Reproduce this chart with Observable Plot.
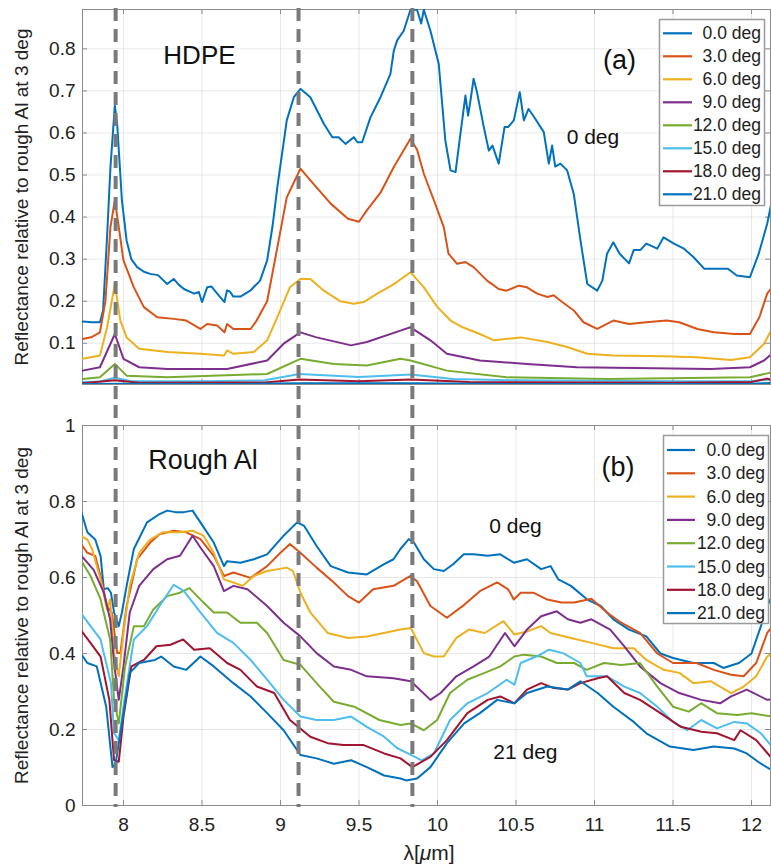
<!DOCTYPE html>
<html><head><meta charset="utf-8">
<script src="https://cdn.jsdelivr.net/npm/d3@7"></script>
<script src="https://cdn.jsdelivr.net/npm/@observablehq/plot@0.6"></script>
<style>
body{margin:0;background:#fff}
#chart{position:relative;width:771px;height:867px;font-family:"Liberation Sans",Arial,Helvetica,sans-serif}
#chart svg{display:block}
#overlay{position:absolute;left:0;top:0;pointer-events:none}
</style>
</head><body><div id="chart"></div>
<script>
// ---------- data ----------
const seriesNames = ["0.0 deg","3.0 deg","6.0 deg","9.0 deg","12.0 deg","15.0 deg","18.0 deg","21.0 deg"];
const seriesColors = ["#0072BD","#D95319","#EDB120","#7E2F8E","#77AC30","#4DBEEE","#A2142F","#0072BD"];
const xTicks = [8,8.5,9,9.5,10,10.5,11,11.5,12];
const yTicksTop = [0.1,0.2,0.3,0.4,0.5,0.6,0.7,0.8];
const yTicksBottom = [0,0.2,0.4,0.6,0.8,1];
const dashX = [7.95,9.115,9.84];

// HDPE panel (a): [wavelength µm, reflectance]
const hdpe0 = [[7.74,0.152],[7.80,0.150],[7.85,0.150],[7.87,0.178],[7.895,0.35],[7.917,0.518],[7.945,0.665],[7.96,0.62],[7.99,0.44],[8.02,0.344],[8.05,0.30],[8.087,0.281],[8.13,0.27],[8.17,0.265],[8.22,0.262],[8.278,0.241],[8.32,0.253],[8.35,0.24],[8.385,0.229],[8.45,0.218],[8.48,0.222],[8.50,0.198],[8.533,0.233],[8.56,0.235],[8.597,0.218],[8.643,0.198],[8.66,0.226],[8.68,0.222],[8.70,0.211],[8.745,0.211],[8.81,0.226],[8.87,0.249],[8.915,0.297],[8.95,0.38],[8.98,0.471],[9.04,0.63],[9.085,0.685],[9.127,0.705],[9.19,0.685],[9.276,0.622],[9.33,0.59],[9.37,0.59],[9.414,0.574],[9.467,0.59],[9.49,0.578],[9.52,0.578],[9.573,0.637],[9.637,0.685],[9.70,0.74],[9.722,0.796],[9.743,0.82],[9.785,0.843],[9.828,0.893],[9.87,0.893],[9.896,0.86],[9.913,0.893],[9.955,0.843],[10.008,0.764],[10.05,0.582],[10.083,0.511],[10.115,0.507],[10.146,0.598],[10.178,0.689],[10.195,0.641],[10.21,0.677],[10.23,0.729],[10.25,0.70],[10.295,0.614],[10.327,0.558],[10.35,0.57],[10.39,0.527],[10.427,0.614],[10.45,0.614],[10.486,0.63],[10.524,0.697],[10.55,0.63],[10.58,0.657],[10.61,0.641],[10.677,0.602],[10.709,0.527],[10.73,0.57],[10.75,0.52],[10.783,0.527],[10.826,0.511],[10.868,0.455],[10.911,0.344],[10.954,0.241],[11.017,0.225],[11.05,0.249],[11.08,0.313],[11.12,0.34],[11.16,0.313],[11.22,0.29],[11.25,0.322],[11.293,0.322],[11.33,0.337],[11.40,0.325],[11.44,0.352],[11.506,0.337],[11.57,0.325],[11.63,0.305],[11.70,0.277],[11.78,0.277],[11.85,0.277],[11.906,0.261],[11.99,0.257],[12.046,0.313],[12.10,0.384],[12.13,0.44]];
const hdpe3 = [[7.74,0.11],[7.80,0.115],[7.85,0.126],[7.885,0.2],[7.917,0.376],[7.945,0.44],[7.97,0.376],[8.0,0.297],[8.066,0.233],[8.13,0.186],[8.215,0.162],[8.32,0.158],[8.40,0.154],[8.49,0.134],[8.533,0.146],[8.597,0.142],[8.643,0.126],[8.66,0.146],[8.70,0.134],[8.81,0.134],[8.848,0.154],[8.915,0.2],[8.98,0.328],[9.04,0.447],[9.127,0.515],[9.21,0.479],[9.32,0.432],[9.43,0.396],[9.50,0.389],[9.55,0.416],[9.637,0.458],[9.722,0.519],[9.828,0.586],[9.87,0.56],[9.913,0.503],[9.977,0.44],[10.04,0.376],[10.07,0.313],[10.125,0.289],[10.178,0.293],[10.23,0.281],[10.316,0.249],[10.39,0.229],[10.44,0.225],[10.518,0.237],[10.57,0.233],[10.635,0.218],[10.70,0.21],[10.74,0.214],[10.794,0.198],[10.868,0.178],[10.93,0.15],[11.017,0.134],[11.12,0.154],[11.22,0.146],[11.33,0.15],[11.46,0.154],[11.54,0.15],[11.655,0.134],[11.76,0.126],[11.89,0.122],[11.99,0.122],[12.05,0.162],[12.10,0.218],[12.13,0.233]];
const hdpe6 = [[7.74,0.063],[7.85,0.071],[7.896,0.138],[7.945,0.241],[7.98,0.154],[8.02,0.114],[8.10,0.087],[8.28,0.079],[8.49,0.075],[8.64,0.071],[8.66,0.083],[8.70,0.075],[8.83,0.079],[8.915,0.107],[8.98,0.162],[9.06,0.233],[9.127,0.253],[9.19,0.253],[9.276,0.225],[9.38,0.2],[9.467,0.194],[9.53,0.198],[9.616,0.218],[9.72,0.24],[9.828,0.269],[9.913,0.233],[10.0,0.186],[10.083,0.154],[10.16,0.138],[10.27,0.122],[10.36,0.107],[10.53,0.114],[10.70,0.103],[10.826,0.091],[10.954,0.075],[11.12,0.071],[11.44,0.069],[11.65,0.067],[11.87,0.06],[11.99,0.067],[12.08,0.099],[12.13,0.134]];
const hdpe9 = [[7.74,0.035],[7.85,0.043],[7.945,0.122],[8.0,0.063],[8.10,0.043],[8.28,0.039],[8.66,0.039],[8.915,0.059],[9.02,0.099],[9.127,0.126],[9.23,0.114],[9.45,0.095],[9.55,0.103],[9.764,0.13],[9.828,0.138],[9.955,0.107],[10.06,0.075],[10.27,0.059],[10.57,0.051],[10.89,0.043],[11.74,0.039],[11.99,0.043],[12.08,0.059],[12.13,0.075]];
const hdpe12 = [[7.74,0.015],[7.85,0.019],[7.945,0.051],[8.02,0.023],[8.28,0.019],[8.915,0.027],[9.127,0.063],[9.34,0.051],[9.55,0.047],[9.764,0.063],[9.828,0.059],[10.06,0.035],[10.44,0.019],[11.08,0.015],[11.99,0.019],[12.13,0.031]];
const hdpe15 = [[7.74,0.008],[7.85,0.009],[7.945,0.018],[8.05,0.01],[8.5,0.01],[8.9,0.012],[9.12,0.027],[9.5,0.02],[9.83,0.026],[10.1,0.015],[10.5,0.012],[11.5,0.01],[12.0,0.01],[12.13,0.014]];
const hdpe18 = [[7.74,0.005],[7.945,0.012],[8.1,0.006],[8.9,0.007],[9.12,0.014],[9.5,0.01],[9.83,0.014],[10.2,0.008],[11.5,0.006],[12.0,0.008],[12.1,0.016],[12.13,0.012]];
const hdpe21 = [[7.74,0.003],[8.0,0.004],[8.7,0.003],[9.12,0.005],[9.83,0.005],[10.5,0.003],[11.5,0.003],[12.0,0.004],[12.13,0.006]];

// Rough Al panel (b)
const al0 = [[7.726,0.78],[7.77,0.719],[7.82,0.70],[7.854,0.657],[7.875,0.569],[7.9,0.572],[7.92,0.56],[7.94,0.508],[7.97,0.472],[7.99,0.508],[8.02,0.578],[8.066,0.675],[8.15,0.745],[8.23,0.767],[8.278,0.776],[8.33,0.772],[8.385,0.772],[8.44,0.776],[8.49,0.745],[8.575,0.692],[8.64,0.63],[8.66,0.643],[8.745,0.639],[8.83,0.648],[8.915,0.661],[9.02,0.71],[9.106,0.745],[9.15,0.736],[9.23,0.683],[9.32,0.63],[9.43,0.613],[9.55,0.608],[9.66,0.635],[9.72,0.648],[9.764,0.675],[9.817,0.701],[9.85,0.692],[9.913,0.648],[9.977,0.622],[10.04,0.617],[10.1,0.635],[10.167,0.661],[10.23,0.661],[10.32,0.657],[10.40,0.661],[10.486,0.639],[10.57,0.648],[10.66,0.622],[10.72,0.63],[10.77,0.595],[10.85,0.578],[10.954,0.542],[11.04,0.525],[11.12,0.49],[11.22,0.463],[11.33,0.445],[11.42,0.40],[11.5,0.388],[11.63,0.375],[11.76,0.375],[11.82,0.362],[11.92,0.375],[12.0,0.40],[12.06,0.472],[12.1,0.525],[12.13,0.55]];
const al3 = [[7.726,0.69],[7.77,0.665],[7.82,0.657],[7.854,0.604],[7.895,0.525],[7.925,0.508],[7.96,0.401],[7.98,0.401],[8.02,0.525],[8.087,0.648],[8.17,0.692],[8.23,0.714],[8.32,0.723],[8.40,0.719],[8.49,0.701],[8.575,0.657],[8.64,0.604],[8.70,0.613],[8.81,0.599],[8.915,0.63],[9.0,0.665],[9.06,0.688],[9.127,0.665],[9.23,0.626],[9.34,0.587],[9.43,0.551],[9.50,0.534],[9.59,0.569],[9.72,0.578],[9.828,0.604],[9.87,0.59],[9.955,0.525],[10.06,0.494],[10.17,0.528],[10.27,0.564],[10.38,0.587],[10.45,0.569],[10.486,0.542],[10.53,0.56],[10.61,0.56],[10.70,0.542],[10.79,0.534],[10.87,0.534],[10.98,0.544],[11.08,0.508],[11.17,0.481],[11.29,0.454],[11.4,0.40],[11.5,0.375],[11.65,0.375],[11.76,0.357],[11.87,0.344],[11.95,0.340],[12.03,0.375],[12.1,0.454],[12.13,0.47]];
const al6 = [[7.726,0.71],[7.77,0.70],[7.80,0.675],[7.854,0.595],[7.895,0.516],[7.915,0.543],[7.94,0.401],[7.97,0.34],[8.0,0.455],[8.04,0.578],[8.1,0.665],[8.17,0.70],[8.25,0.719],[8.36,0.719],[8.44,0.723],[8.51,0.71],[8.575,0.665],[8.64,0.595],[8.70,0.587],[8.76,0.578],[8.83,0.604],[8.915,0.617],[9.04,0.626],[9.08,0.617],[9.127,0.56],[9.19,0.508],[9.30,0.454],[9.43,0.441],[9.55,0.445],[9.764,0.463],[9.83,0.467],[9.913,0.401],[9.977,0.392],[10.04,0.392],[10.12,0.441],[10.2,0.463],[10.3,0.454],[10.42,0.485],[10.49,0.45],[10.57,0.458],[10.66,0.472],[10.72,0.454],[10.85,0.441],[10.98,0.428],[11.12,0.414],[11.25,0.414],[11.33,0.383],[11.44,0.357],[11.54,0.349],[11.63,0.322],[11.74,0.327],[11.87,0.296],[11.95,0.313],[12.03,0.34],[12.1,0.392],[12.13,0.40]];
const al9 = [[7.726,0.66],[7.81,0.62],[7.875,0.56],[7.915,0.49],[7.94,0.375],[7.97,0.278],[8.0,0.366],[8.04,0.508],[8.1,0.578],[8.19,0.622],[8.278,0.648],[8.36,0.657],[8.44,0.71],[8.49,0.679],[8.575,0.63],[8.64,0.564],[8.70,0.578],[8.79,0.569],[8.915,0.525],[9.02,0.481],[9.127,0.445],[9.23,0.401],[9.34,0.366],[9.45,0.357],[9.55,0.34],[9.72,0.335],[9.83,0.327],[9.955,0.278],[10.02,0.296],[10.12,0.34],[10.23,0.366],[10.33,0.392],[10.43,0.454],[10.49,0.419],[10.57,0.463],[10.66,0.498],[10.76,0.511],[10.83,0.49],[10.91,0.481],[10.98,0.49],[11.1,0.463],[11.19,0.419],[11.29,0.366],[11.42,0.322],[11.54,0.296],[11.68,0.278],[11.8,0.269],[11.87,0.287],[11.97,0.305],[12.1,0.278],[12.13,0.28]];
const al12 = [[7.726,0.648],[7.79,0.604],[7.854,0.543],[7.915,0.437],[7.94,0.278],[7.97,0.216],[8.01,0.366],[8.066,0.472],[8.13,0.472],[8.19,0.516],[8.278,0.551],[8.36,0.56],[8.42,0.572],[8.51,0.534],[8.575,0.508],[8.66,0.508],[8.745,0.481],[8.85,0.481],[8.915,0.454],[9.02,0.383],[9.127,0.37],[9.25,0.313],[9.34,0.273],[9.47,0.26],[9.63,0.225],[9.764,0.212],[9.83,0.216],[9.913,0.198],[9.998,0.225],[10.08,0.296],[10.19,0.331],[10.3,0.349],[10.4,0.366],[10.49,0.392],[10.55,0.397],[10.66,0.392],[10.76,0.375],[10.87,0.375],[10.95,0.357],[11.06,0.375],[11.17,0.37],[11.29,0.375],[11.4,0.313],[11.5,0.26],[11.6,0.247],[11.68,0.269],[11.78,0.243],[11.91,0.238],[12.0,0.243],[12.13,0.234]];
const al15 = [[7.726,0.508],[7.79,0.472],[7.854,0.437],[7.92,0.322],[7.94,0.19],[7.97,0.172],[8.0,0.26],[8.066,0.437],[8.15,0.472],[8.23,0.525],[8.32,0.581],[8.385,0.564],[8.49,0.508],[8.596,0.454],[8.70,0.428],[8.81,0.383],[8.915,0.331],[9.02,0.278],[9.127,0.234],[9.23,0.225],[9.34,0.225],[9.45,0.234],[9.55,0.207],[9.66,0.181],[9.74,0.152],[9.83,0.133],[9.9,0.119],[9.977,0.137],[10.08,0.225],[10.19,0.269],[10.32,0.296],[10.44,0.331],[10.49,0.318],[10.53,0.375],[10.63,0.392],[10.71,0.41],[10.8,0.401],[10.91,0.375],[10.95,0.34],[11.08,0.34],[11.19,0.313],[11.29,0.296],[11.4,0.26],[11.5,0.22],[11.59,0.198],[11.68,0.225],[11.78,0.203],[11.89,0.22],[11.97,0.216],[12.06,0.19],[12.13,0.155]];
const al18 = [[7.726,0.463],[7.79,0.428],[7.854,0.392],[7.91,0.278],[7.94,0.119],[7.97,0.115],[8.0,0.234],[8.05,0.366],[8.13,0.383],[8.21,0.419],[8.30,0.423],[8.38,0.437],[8.45,0.41],[8.55,0.414],[8.66,0.375],[8.745,0.357],[8.85,0.313],[8.96,0.296],[9.06,0.225],[9.19,0.181],[9.30,0.164],[9.40,0.159],[9.53,0.159],[9.66,0.137],[9.764,0.124],[9.84,0.101],[9.955,0.128],[10.06,0.172],[10.19,0.243],[10.32,0.278],[10.4,0.287],[10.49,0.269],[10.57,0.305],[10.66,0.322],[10.74,0.309],[10.83,0.305],[10.91,0.322],[11.02,0.335],[11.08,0.34],[11.19,0.296],[11.29,0.278],[11.42,0.243],[11.55,0.207],[11.68,0.194],[11.78,0.19],[11.89,0.172],[11.93,0.198],[12.03,0.172],[12.13,0.124]];
const al21 = [[7.726,0.401],[7.77,0.375],[7.83,0.366],[7.89,0.26],[7.93,0.101],[7.95,0.11],[7.98,0.19],[8.04,0.349],[8.10,0.375],[8.2,0.383],[8.24,0.392],[8.32,0.366],[8.40,0.357],[8.49,0.392],[8.575,0.366],[8.70,0.322],[8.81,0.287],[8.915,0.243],[9.02,0.198],[9.127,0.133],[9.23,0.124],[9.34,0.110],[9.45,0.119],[9.55,0.101],[9.66,0.079],[9.764,0.071],[9.80,0.066],[9.87,0.071],[9.955,0.101],[10.06,0.164],[10.17,0.216],[10.27,0.243],[10.38,0.278],[10.49,0.269],[10.57,0.296],[10.70,0.313],[10.83,0.305],[10.91,0.327],[11.02,0.296],[11.12,0.26],[11.25,0.22],[11.33,0.19],[11.48,0.155],[11.63,0.146],[11.76,0.155],[11.89,0.15],[11.97,0.137],[12.06,0.110],[12.13,0.093]];

const hdpeSeries = [hdpe0,hdpe3,hdpe6,hdpe9,hdpe12,hdpe15,hdpe18,hdpe21];
const alSeries = [al0,al3,al6,al9,al12,al15,al18,al21];

// annotations (data coordinates)
const notesTop = [
  {x:8.484, y:0.784, text:"HDPE", size:26},
  {x:11.16, y:0.772, text:"(a)", size:27},
  {x:10.99, y:0.589, text:"0 deg", size:21}
];
const notesBottom = [
  {x:8.506, y:0.908, text:"Rough Al", size:27},
  {x:11.15, y:0.89, text:"(b)", size:27},
  {x:10.497, y:0.736, text:"0 deg", size:21},
  {x:10.56, y:0.141, text:"21 deg", size:21}
];

// ---------- drawing ----------
const W = 771, ML = 82, MR = 1;
const xDomain = [7.739, 12.121];
const font = '"Liberation Sans", Arial, Helvetica, sans-serif';
const frameColor = "#8c8c8c";
const fmt = d => String(d);

function panel({series, yDomain, yTicks, height, marginTop, marginBottom, bottomAxis, dashInsetTop, dashInsetBottom, notes}) {
  const fh = height - marginTop - marginBottom;
  const fw = W - ML - MR;
  const marks = [
    Plot.gridX(xTicks, {stroke: "#000", strokeOpacity: 0.09, strokeWidth: 1}),
    Plot.gridY(yTicks, {stroke: "#000", strokeOpacity: 0.09, strokeWidth: 1}),
    Plot.ruleX(xTicks, {stroke: frameColor, insetTop: fh - 5}),
    Plot.ruleX(xTicks, {stroke: frameColor, insetBottom: fh - 5}),
    Plot.ruleY(yTicks, {stroke: frameColor, insetRight: fw - 5}),
    Plot.ruleY(yTicks, {stroke: frameColor, insetLeft: fw - 5}),
    Plot.frame({stroke: frameColor}),
    Plot.axisY(yTicks, {tickSize: 0, tickPadding: 7, tickFormat: fmt, fill: "#222", label: "Reflectance relative to rough Al at 3 deg", labelAnchor: "center", labelArrow: "none", labelOffset: 68})
  ];
  if (bottomAxis) marks.push(Plot.axisX(xTicks, {tickSize: 0, tickPadding: 12, tickFormat: fmt, fill: "#222", label: null}));
  series.forEach((s, i) => {
    marks.push(Plot.line(s, {x: d => d[0], y: d => d[1], stroke: seriesColors[i], strokeWidth: 2, clip: true}));
  });
  marks.push(Plot.ruleX(dashX, {stroke: "#7a7a7a", strokeWidth: 4, strokeDasharray: "13,8", insetTop: dashInsetTop, insetBottom: dashInsetBottom}));
  marks.push(Plot.text(notes, {x: "x", y: "y", text: "text", fontSize: "size", fill: "#111"}));
  return Plot.plot({
    width: W, height, marginLeft: ML, marginRight: MR, marginTop, marginBottom,
    x: {domain: xDomain, axis: bottomAxis ? undefined : null},
    y: {domain: yDomain},
    style: {fontFamily: font, fontSize: "19px", background: "transparent", color: "#222"},
    marks
  });
}

const chart = document.getElementById("chart");
chart.appendChild(panel({series: hdpeSeries, yDomain: [0.002, 0.8935], yTicks: yTicksTop, height: 405, marginTop: 9, marginBottom: 21, bottomAxis: false, dashInsetTop: -1, dashInsetBottom: -21, notes: notesTop}));
chart.appendChild(panel({series: alSeries, yDomain: [0, 1], yTicks: yTicksBottom, height: 462, marginTop: 20, marginBottom: 62, bottomAxis: true, dashInsetTop: -20, dashInsetBottom: -2, notes: notesBottom}));

// overlay: legends and x label
const ov = d3.select(chart).append("svg").attr("id", "overlay").attr("width", W).attr("height", 867)
  .style("font-family", font);

function legend(x0, y0, w, h, firstRow, step, lineX1, lineX2, textRight) {
  const g = ov.append("g");
  g.append("rect").attr("x", x0 + 0.5).attr("y", y0 + 0.5).attr("width", w).attr("height", h)
    .attr("fill", "#fff").attr("stroke", "#9a9a9a").attr("stroke-width", 1.5);
  seriesNames.forEach((name, i) => {
    const y = firstRow + step * i;
    g.append("line").attr("x1", lineX1).attr("x2", lineX2).attr("y1", y).attr("y2", y)
      .attr("stroke", seriesColors[i]).attr("stroke-width", 2.2);
    g.append("text").attr("x", textRight).attr("y", y).attr("dy", "0.35em")
      .attr("text-anchor", "end").attr("font-size", 17.5).attr("fill", "#222").text(name);
  });
}
legend(659, 19, 105, 186, 33.3, 23, 663, 692, 761);
legend(663, 435, 105, 188, 450, 23.3, 667, 695, 765);

const xl = ov.append("text").attr("x", 429).attr("y", 853).attr("dy", "0.35em")
  .attr("text-anchor", "middle").attr("font-size", 21).attr("fill", "#222");
xl.append("tspan").text("λ[");
xl.append("tspan").attr("font-style", "italic").text("μ");
xl.append("tspan").text("m]");
</script>
</body></html>
